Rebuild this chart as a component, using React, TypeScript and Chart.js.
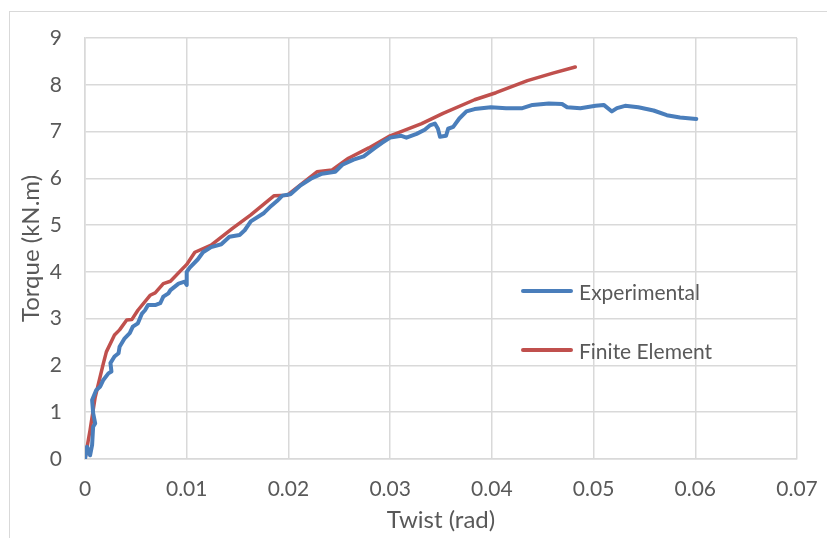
import React, { useEffect, useRef } from "react";
import { Chart, registerables } from "chart.js";

Chart.register(...registerables);

const expTwist = [
  0, 0.0002, 0.0005, 0.0007, 0.0008, 0.001, 0.0008, 0.0007, 0.0011, 0.0015, 0.0018, 0.0023, 0.0026, 0.0025,
  0.0029, 0.0033, 0.0034, 0.0039, 0.0044, 0.0047, 0.0052, 0.0056, 0.0059, 0.0062, 0.0069, 0.0074, 0.0077,
  0.0082, 0.0084, 0.0092, 0.0098, 0.01, 0.01, 0.0103, 0.0111, 0.0116, 0.0124, 0.0134, 0.0142, 0.0152, 0.0157,
  0.0163, 0.0176, 0.0183, 0.0189, 0.0194, 0.0202, 0.0212, 0.0222, 0.0233, 0.0246, 0.0253, 0.0264, 0.0274,
  0.0285, 0.0292, 0.03, 0.0311, 0.0316, 0.0326, 0.0334, 0.0339, 0.0344, 0.0347, 0.0349, 0.0355, 0.0357,
  0.0362, 0.0368, 0.0375, 0.0383, 0.0399, 0.0414, 0.043, 0.044, 0.0456, 0.0469, 0.0474, 0.0487, 0.0502,
  0.051, 0.0518, 0.0523, 0.0531, 0.0544, 0.0559, 0.0572, 0.0585, 0.0601,
];
const expTorque = [
  0, 0.26, 0.08, 0.3, 0.69, 0.76, 0.98, 1.26, 1.47, 1.55, 1.69, 1.83, 1.87, 2.05,
  2.19, 2.26, 2.4, 2.58, 2.69, 2.83, 2.9, 3.11, 3.18, 3.29, 3.29, 3.33, 3.47,
  3.54, 3.61, 3.75, 3.79, 3.72, 4.0, 4.09, 4.27, 4.42, 4.53, 4.59, 4.75, 4.79, 4.89,
  5.08, 5.26, 5.41, 5.52, 5.63, 5.66, 5.85, 5.99, 6.1, 6.14, 6.29, 6.4, 6.47,
  6.65, 6.76, 6.87, 6.91, 6.87, 6.95, 7.04, 7.13, 7.17, 7.06, 6.89, 6.91, 7.06,
  7.1, 7.28, 7.43, 7.48, 7.52, 7.5, 7.5, 7.57, 7.6, 7.59, 7.52, 7.5, 7.55,
  7.57, 7.43, 7.5, 7.55, 7.52, 7.45, 7.35, 7.3, 7.27,
];

const feTwist = [
  0, 0.0005, 0.001, 0.0018, 0.0021, 0.0029, 0.0034, 0.0041, 0.0046, 0.0052, 0.0064, 0.0069, 0.0077, 0.0084,
  0.01, 0.0108, 0.0124, 0.0145, 0.0163, 0.0186, 0.0199, 0.0228, 0.0243, 0.0259, 0.0279, 0.03, 0.0331,
  0.0352, 0.0383, 0.0404, 0.0435, 0.046, 0.0482,
];
const feTorque = [
  0, 0.62, 1.32, 2.04, 2.29, 2.65, 2.76, 2.97, 2.98, 3.18, 3.5, 3.55, 3.75, 3.8,
  4.16, 4.42, 4.57, 4.93, 5.22, 5.63, 5.64, 6.14, 6.18, 6.43, 6.65, 6.91, 7.17,
  7.39, 7.68, 7.83, 8.09, 8.25, 8.38,
];

const xTickLabels = ["0", "0.01", "0.02", "0.03", "0.04", "0.05", "0.06", "0.07"];
const yTickLabels = ["0", "1", "2", "3", "4", "5", "6", "7", "8", "9"];
const seriesNames = ["Experimental", "Finite Element"];
const xTitle = "Twist (rad)";
const yTitle = "Torque (kN.m)";

const BLUE = "#4a7ebb";
const RED = "#c0504d";
const GRID = "#d9d9d9";
const TEXT = "#595959";
const FONT = "Lato, 'Open Sans', sans-serif";

export default function App() {
  const ref = useRef<HTMLCanvasElement>(null);

  useEffect(() => {
    const canvas = ref.current;
    if (!canvas) return;
    const chart = new Chart(canvas, {
      type: "scatter",
      data: {
        datasets: [
          {
            label: seriesNames[0],
            data: expTwist.map((x, i) => ({ x, y: expTorque[i] })),
            showLine: true,
            borderColor: BLUE,
            backgroundColor: BLUE,
            borderWidth: 4,
            pointRadius: 0,
            borderCapStyle: "round",
            borderJoinStyle: "round",
          },
          {
            label: seriesNames[1],
            data: feTwist.map((x, i) => ({ x, y: feTorque[i] })),
            showLine: true,
            borderColor: RED,
            backgroundColor: RED,
            borderWidth: 3.5,
            pointRadius: 0,
            borderCapStyle: "round",
            borderJoinStyle: "round",
          },
        ],
      },
      options: {
        responsive: false,
        animation: false,
        layout: { padding: { left: 0, top: 38, right: 30, bottom: 0 } },
        plugins: { legend: { display: false }, tooltip: { enabled: false } },
        scales: {
          x: {
            type: "linear",
            min: 0,
            max: 0.07,
            afterFit: (s: any) => {
              s.height = 79;
              s.paddingLeft = 0;
              s.paddingRight = 0;
            },
            afterBuildTicks: (s: any) => {
              s.ticks = xTickLabels.map((_, i) => ({ value: i * 0.01 }));
            },
            ticks: {
              color: TEXT,
              font: { family: FONT, size: 21 },
              padding: 18,
              maxRotation: 0,
              callback: (_v: any, i: number) => xTickLabels[i],
            },
            grid: { color: GRID, lineWidth: 1.5, drawTicks: false },
            border: { color: GRID, width: 1.5 },
            title: {
              display: true,
              text: xTitle,
              color: TEXT,
              font: { family: FONT, size: 24 },
              padding: { top: 0, bottom: 3 },
            },
          },
          y: {
            type: "linear",
            min: 0,
            max: 9,
            afterFit: (s: any) => {
              s.width = 85;
              s.paddingTop = 0;
              s.paddingBottom = 0;
            },
            afterBuildTicks: (s: any) => {
              s.ticks = yTickLabels.map((_, i) => ({ value: i }));
            },
            ticks: {
              color: TEXT,
              font: { family: FONT, size: 21 },
              padding: 23,
              callback: (_v: any, i: number) => yTickLabels[i],
            },
            grid: { color: GRID, lineWidth: 1.5, drawTicks: false },
            border: { color: GRID, width: 1.5 },
            title: {
              display: true,
              text: yTitle,
              color: TEXT,
              font: { family: FONT, size: 24 },
              padding: { top: 17, bottom: 0 },
            },
          },
        },
      },
    });
    return () => chart.destroy();
  }, []);

  const legendItem = (name: string, color: string, top: number) => (
    <div
      key={name}
      style={{ position: "absolute", left: 521, top: top - 15, height: 30, display: "flex", alignItems: "center" }}
    >
      <div style={{ width: 52, height: 4, background: color, borderRadius: 2 }} />
      <span style={{ marginLeft: 6, fontFamily: FONT, fontSize: 21, color: TEXT, whiteSpace: "nowrap" }}>{name}</span>
    </div>
  );

  return (
    <div style={{ position: "fixed", left: 0, top: 0, width: 827, height: 538, background: "#fff", overflow: "hidden" }}>
      <div
        style={{
          position: "absolute",
          left: 9,
          top: 11,
          width: 900,
          height: 600,
          borderLeft: `1.5px solid ${GRID}`,
          borderTop: `1.5px solid ${GRID}`,
        }}
      />
      <canvas ref={ref} width={827} height={538} style={{ position: "absolute", left: 0, top: 0 }} />
      {legendItem(seriesNames[0], BLUE, 291)}
      {legendItem(seriesNames[1], RED, 350)}
    </div>
  );
}
